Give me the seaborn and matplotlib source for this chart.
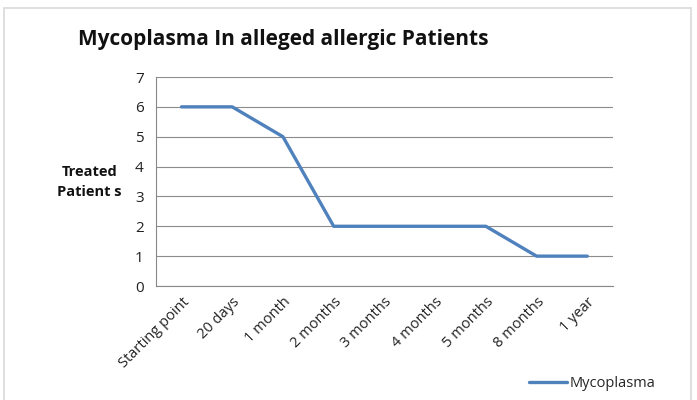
import numpy as np
import pandas as pd
import matplotlib.pyplot as plt
import seaborn as sns
from matplotlib.patches import Rectangle

# chart data
periods = ['Starting point', '20 days', '1 month', '2 months', '3 months',
           '4 months', '5 months', '8 months', '1 year']
patients = [6, 6, 5, 2, 2, 2, 2, 1, 1]

df = pd.DataFrame({'Period': periods, 'Treated': patients})
df['pos'] = np.arange(len(periods))

sns.set_style('white')
plt.rcParams['font.family'] = ['Open Sans', 'DejaVu Sans']

fig = plt.figure(figsize=(6.97, 4.0), dpi=100)
ax = fig.add_axes([0.224, 0.285, 0.655, 0.5225])

sns.lineplot(data=df, x='pos', y='Treated', ax=ax, color='#4F81BD',
             linewidth=2.4, label='Mycoplasma', legend=False)

ax.set_xlim(-0.5, len(periods) - 0.5)
ax.set_ylim(0, 7)
ax.set_yticks(range(0, 8))
ax.set_xticks(df['pos'])
ax.set_xticklabels(periods, rotation=45, ha='right', rotation_mode='anchor',
                   fontsize=10.5, color='#222222')
ax.set_xticks(np.arange(-0.5, len(periods)), minor=True)
ax.tick_params(axis='x', which='major', length=0, pad=6)
ax.tick_params(axis='x', which='minor', length=5, color='#888888', direction='out')
ax.tick_params(axis='y', length=5, color='#888888', direction='out', labelsize=11,
               labelcolor='#222222', pad=4)
ax.yaxis.grid(True, color='#8c8c8c', linewidth=0.8)
ax.set_axisbelow(True)
for side in ['top', 'right']:
    ax.spines[side].set_visible(False)
for side in ['left', 'bottom']:
    ax.spines[side].set_color('#888888')
    ax.spines[side].set_linewidth(0.8)
ax.set_xlabel('')
ax.set_ylabel('')

fig.text(0.112, 0.9, 'Mycoplasma In alleged allergic Patients', fontsize=15,
         fontweight='bold', va='center', ha='left', color='#111111')
fig.text(0.128, 0.545, 'Treated\nPatient s', fontsize=10.5, fontweight='bold',
         ha='center', va='center', linespacing=1.5, color='#111111')

handles, labels = ax.get_legend_handles_labels()
fig.legend(handles, labels, loc='center left', bbox_to_anchor=(0.74, 0.042),
           frameon=False, fontsize=10.5, handlelength=2.6, handletextpad=0.2)

fig.add_artist(Rectangle((0.006, -0.02), 0.985, 1.0, transform=fig.transFigure,
                         fill=False, edgecolor='#d9d9d9', linewidth=1.2))

plt.savefig('out.png', dpi=100)
